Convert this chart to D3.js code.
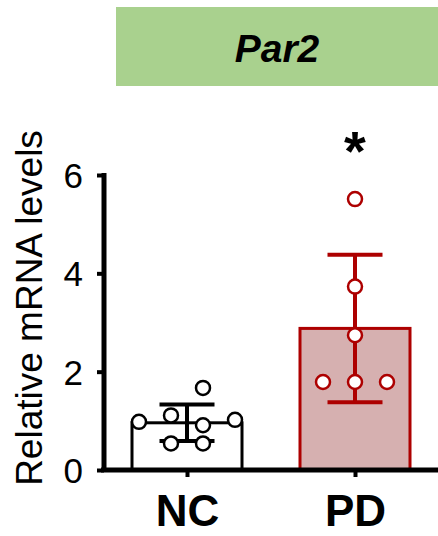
<!DOCTYPE html>
<html>
<head>
<meta charset="utf-8">
<script src="https://cdn.jsdelivr.net/npm/d3@7"></script>
<style>
  body { margin: 0; background: #fff; }
  svg { display: block; font-family: Arial, "Liberation Sans", sans-serif; }
</style>
</head>
<body>
<div id="chart"></div>
<script>
const groups = ['NC', 'PD'];
const means = [0.96, 2.88];
const sds = [0.37, 1.5];
const ncPoints = [0.98, 1.11, 1.67, 0.91, 1.02, 0.54, 0.54];
const pdPoints = [5.51, 3.73, 2.74, 1.79, 1.79, 1.79];
// horizontal jitter slot of each dot, in dot widths
const ncSlots = [-1.5, -0.5, 0.5, 0.5, 1.5, -0.5, 0.5];
const pdSlots = [0, 0, 0, -1, 0, 1];
const yTicks = [0, 2, 4, 6];
const title = 'Par2';
const yLabel = 'Relative mRNA levels';
const sigMark = '*';

const width = 438, height = 536;
const strokeCols = ['#000000', '#ad0000'];
const fillCols = ['#ffffff', '#d6b0b0'];

const svg = d3.select('#chart').append('svg')
  .attr('width', width)
  .attr('height', height);

// title banner
svg.append('rect')
  .attr('x', 116).attr('y', 7)
  .attr('width', 330).attr('height', 79)
  .attr('fill', '#a9d18e');
svg.append('text')
  .attr('x', 277).attr('y', 62)
  .attr('text-anchor', 'middle')
  .attr('font-size', 39)
  .attr('font-weight', 'bold')
  .attr('font-style', 'italic')
  .text(title);

const y = d3.scaleLinear().domain([0, 6]).range([470, 175]);
const x = d3.scalePoint().domain(groups).range([103, 439]).padding(0.5);
const barW = 110, capW = 55, dotStep = 32;

const g = svg.append('g');

// bars
g.selectAll('rect.bar')
  .data(groups)
  .join('rect')
  .attr('class', 'bar')
  .attr('x', d => x(d) - barW / 2)
  .attr('y', (d, i) => y(means[i]))
  .attr('width', barW)
  .attr('height', (d, i) => y(0) - y(means[i]))
  .attr('fill', (d, i) => fillCols[i])
  .attr('stroke', (d, i) => strokeCols[i])
  .attr('stroke-width', 3);

// error bars
groups.forEach((grp, i) => {
  const cx = x(grp);
  const eg = g.append('g').attr('stroke', strokeCols[i]).attr('stroke-width', 4);
  eg.append('line')
    .attr('x1', cx).attr('x2', cx)
    .attr('y1', y(means[i] + sds[i])).attr('y2', y(means[i] - sds[i]));
  [means[i] + sds[i], means[i] - sds[i]].forEach(v => {
    eg.append('line')
      .attr('x1', cx - capW / 2).attr('x2', cx + capW / 2)
      .attr('y1', y(v)).attr('y2', y(v));
  });
});

// dots
const dots = [
  ...ncPoints.map((v, k) => ({ grp: 'NC', v, s: ncSlots[k], i: 0 })),
  ...pdPoints.map((v, k) => ({ grp: 'PD', v, s: pdSlots[k], i: 1 }))
];
g.selectAll('circle.dot')
  .data(dots)
  .join('circle')
  .attr('class', 'dot')
  .attr('cx', d => x(d.grp) + d.s * dotStep)
  .attr('cy', d => y(d.v))
  .attr('r', 7)
  .attr('fill', '#fff')
  .attr('stroke', d => strokeCols[d.i])
  .attr('stroke-width', 2.5);

// axes
const yAxis = svg.append('g')
  .attr('transform', 'translate(104,0)')
  .call(d3.axisLeft(y).tickValues(yTicks).tickSize(7).tickPadding(14).tickFormat(d3.format('d')));
yAxis.select('.domain').attr('stroke-width', 5).attr('d', `M0,${y(6) - 2}V${y(0) + 2}`);
yAxis.selectAll('.tick line').attr('stroke-width', 4);
yAxis.selectAll('.tick text')
  .attr('font-size', 35)
  .attr('font-family', 'Arial, "Liberation Sans", sans-serif')
  .attr('fill', '#000')
  .attr('dy', '0.36em');

const xAxis = svg.append('g')
  .attr('transform', 'translate(0,470)')
  .call(d3.axisBottom(x).tickSize(7).tickPadding(18));
xAxis.select('.domain').attr('stroke-width', 5).attr('d', 'M101,0H438');
xAxis.selectAll('.tick line').attr('stroke-width', 4);
xAxis.selectAll('.tick text')
  .attr('font-size', 44)
  .attr('font-weight', 'bold')
  .attr('font-family', 'Arial, "Liberation Sans", sans-serif')
  .attr('fill', '#000');

// y label
svg.append('text')
  .attr('transform', 'translate(42,308) rotate(-90)')
  .attr('text-anchor', 'middle')
  .attr('font-size', 37)
  .text(yLabel);

// significance mark
svg.append('text')
  .attr('x', x('PD'))
  .attr('y', 170)
  .attr('text-anchor', 'middle')
  .attr('font-size', 56)
  .attr('font-weight', 'bold')
  .text(sigMark);
</script>
</body>
</html>
